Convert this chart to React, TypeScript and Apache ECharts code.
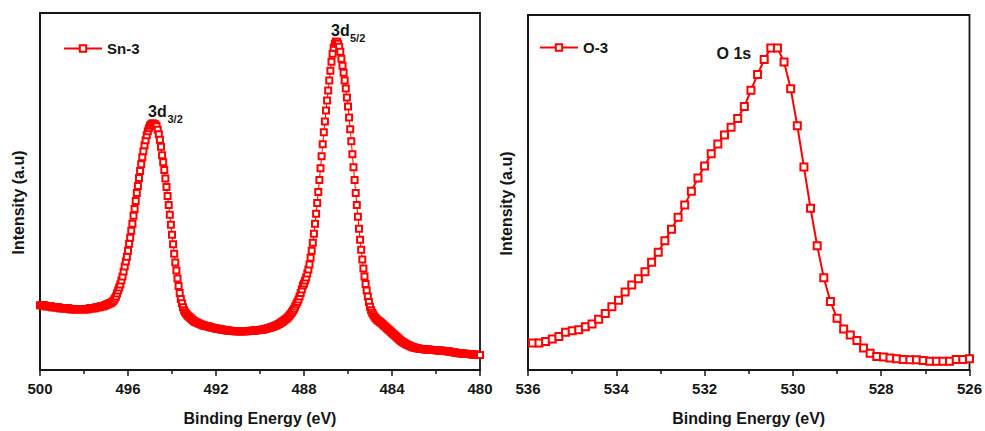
import React, { useEffect, useRef } from "react";
import * as echarts from "echarts";

// ---------- Sn 3d spectrum (Sn-3) ----------
const SN_START = 500; // eV, first measured energy
const SN_STEP = 0.05; // eV, measurement step
const snIntensity = [
  65, 65, 65, 65, 65, 64, 64, 64, 64, 64, 64, 63, 63, 63, 63, 63, 63, 63, 62, 62,
  62, 62, 62, 62, 62, 62, 62, 61, 61, 61, 61, 61, 61, 61, 61, 61, 61, 61, 61, 61,
  61, 61, 61, 61, 61, 62, 62, 62, 62, 62, 62, 63, 63, 63, 63, 64, 64, 64, 64, 65,
  65, 66, 66, 67, 67, 68, 69, 70, 72, 74, 77, 80, 83, 86, 90, 94, 99, 104, 109, 114,
  120, 127, 133, 140, 147, 155, 162, 170, 178, 185, 193, 200, 207, 214, 220, 226, 231, 236, 240, 243,
  245.5, 247, 248, 248, 247.5, 246.5, 245, 241.5, 237, 231.5, 224.5, 216, 209, 201, 192.5, 184, 175, 166, 156, 146,
  136, 126.5, 117, 108, 100, 92, 84.5, 77.5, 71.5, 67, 63, 60, 58, 56.5, 55, 54, 53, 52, 51, 50,
  49, 48.5, 48, 47.5, 47, 46.5, 46, 45.5, 45, 44.8, 44.5, 44.2, 44, 43.7, 43.4, 43.1, 42.8, 42.5, 42.2, 42,
  41.8, 41.6, 41.4, 41.2, 41, 40.8, 40.6, 40.4, 40.2, 40, 39.8, 39.6, 39.5, 39.4, 39.3, 39.2, 39.1, 39, 39, 39,
  39, 39, 39, 39, 39, 39, 39, 39, 39, 39.1, 39.2, 39.3, 39.4, 39.5, 39.6, 39.7, 39.8, 39.9, 40, 40.1,
  40.2, 40.4, 40.6, 40.8, 41, 41.3, 41.6, 41.9, 42.2, 42.5, 42.9, 43.3, 43.7, 44.1, 44.6, 45, 45.6, 46.2, 46.8, 47.5,
  48.2, 49, 49.8, 50.7, 51.6, 52.6, 53.7, 55, 56.5, 58, 59.8, 61.7, 63.8, 66, 68.5, 71, 74, 77.5, 81, 85,
  87, 90, 93, 97, 101, 106, 113, 120, 128, 137, 147, 157, 168, 179, 191, 203, 215, 227, 239, 250,
  261, 271, 281, 291, 301, 310, 318, 324, 328, 330, 330, 328, 325, 320, 313, 306, 299, 291, 283, 274,
  265, 254, 242, 230, 217, 204, 191, 178, 166, 154, 142, 131, 121, 111, 102, 94, 86.5, 80, 74, 68.5,
  63.5, 60, 57.5, 55.5, 53.8, 52.3, 51.1, 50.1, 49.2, 48.3, 47.4, 46.5, 45.5, 44.5, 43.5, 42.5, 41.5, 40.5, 39.5, 38.5,
  37.5, 36.5, 35.5, 34.5, 33.5, 32.5, 31.5, 30.5, 29.5, 28.7, 28, 27.3, 26.6, 26, 25.4, 24.8, 24.3, 23.8, 23.4, 23,
  22.6, 22.3, 22, 21.8, 21.6, 21.4, 21.2, 21.1, 21, 20.9, 20.8, 20.7, 20.6, 20.5, 20.4, 20.3, 20.2, 20.1, 20, 20,
  19.9, 19.8, 19.7, 19.6, 19.5, 19.4, 19.3, 19.2, 19.1, 19, 18.9, 18.8, 18.6, 18.4, 18.2, 18, 17.8, 17.6, 17.4, 17.2,
  17, 16.9, 16.8, 16.7, 16.6, 16.5, 16.4, 16.3, 16.2, 16.1, 16, 15.9, 15.8, 15.7, 15.6, 15.5, 15.4, 15.3, 15.2, 15.1,
  15,
];

// ---------- O 1s spectrum (O-3) ----------
const O_START = 535.9;
const O_STEP = 0.15;
const oIntensity = [
  27.3, 27.3, 28.7, 31.3, 33.7, 38, 39.7, 40.7, 43.7, 46.3,
  51.3, 57, 63.7, 70.3, 78.7, 85.7, 92, 99, 108.7, 118.7,
  130.3, 142, 154, 166.3, 180.3, 193.7, 205.7, 218, 228, 237,
  244.7, 253.7, 265.7, 282, 298, 313, 324.7, 324.7, 310.7, 283.7,
  246.3, 204.7, 163, 125.3, 93, 69, 52.3, 41.3, 35.3, 29.7,
  22.3, 17, 13.7, 13, 12, 11.3, 10.7, 10.3, 10.3, 9.7,
  8.7, 8.7, 8.7, 8.7, 10.7, 10.7, 11.3,
];

// axis ranges / ticks
const snRange = { min: 480, max: 500, interval: 4 };
const oRange = { min: 526, max: 536, interval: 2 };
const xTitle = "Binding Energy (eV)";
const yTitle = "Intensity (a.u)";
const snName = "Sn-3";
const oName = "O-3";

const snData = snIntensity.map((v, i) => [+(SN_START - i * SN_STEP).toFixed(2), v]);
const oData = oIntensity.map((v, i) => [+(O_START - i * O_STEP).toFixed(2), v]);

const FONT = '"Liberation Sans", Arial, Helvetica, sans-serif';
const INK = "#161616";
const RED = "#ff0000";

function xAxisFor(gridIndex: number, r: { min: number; max: number; interval: number }) {
  return {
    gridIndex,
    type: "value",
    inverse: true,
    min: r.min,
    max: r.max,
    interval: r.interval,
    name: xTitle,
    nameLocation: "middle",
    nameGap: 40,
    nameTextStyle: { fontFamily: FONT, fontWeight: "bold", fontSize: 16, color: INK },
    axisLine: { show: true, lineStyle: { color: INK, width: 1.8 } },
    axisTick: { show: true, inside: false, length: 6, lineStyle: { color: INK, width: 1.5 } },
    minorTick: { show: true, splitNumber: 2, length: 4, lineStyle: { color: INK, width: 1.5 } },
    axisLabel: { fontFamily: FONT, fontWeight: "bold", fontSize: 15, color: INK, margin: 11 },
    splitLine: { show: false },
    minorSplitLine: { show: false },
  };
}

function yAxisFor(gridIndex: number, max: number) {
  return {
    gridIndex,
    type: "value",
    min: 0,
    max,
    name: yTitle,
    nameLocation: "middle",
    nameRotate: 90,
    nameGap: 14,
    nameTextStyle: {
      fontFamily: FONT,
      fontWeight: "bold",
      fontSize: 16,
      color: INK,
      padding: [0, 22, 0, 0],
    },
    axisLine: { show: true, lineStyle: { color: INK, width: 1.8 } },
    axisTick: { show: false },
    axisLabel: { show: false },
    splitLine: { show: false },
  };
}

function annot(text: string, x: number, y: number, size: number) {
  return {
    type: "text",
    x,
    y,
    silent: true,
    style: {
      text,
      font: `bold ${size}px ${FONT}`,
      fill: INK,
      textAlign: "left",
      textVerticalAlign: "middle",
      align: "left",
      verticalAlign: "middle",
    },
  };
}

export default function App() {
  const ref = useRef<HTMLDivElement>(null);
  useEffect(() => {
    document.body.style.margin = "0";
    if (!ref.current) return;
    const chart = echarts.init(ref.current, null, { renderer: "svg" });
    const legendCommon = {
      orient: "horizontal",
      padding: 0,
      itemWidth: 38,
      itemHeight: 8,
      itemGap: 5,
      textStyle: { fontFamily: FONT, fontWeight: "bold", fontSize: 15, color: INK },
    };
    chart.setOption({
      animation: false,
      backgroundColor: "#ffffff",
      grid: [
        { left: 40, top: 13, width: 440, height: 359, show: true, borderColor: INK, borderWidth: 1.8 },
        { left: 528, top: 15, width: 442, height: 358, show: true, borderColor: INK, borderWidth: 1.8 },
      ],
      xAxis: [xAxisFor(0, snRange), xAxisFor(1, oRange)],
      yAxis: [yAxisFor(0, 359), yAxisFor(1, 358)],
      legend: [
        { ...legendCommon, data: [snName], left: 63, top: 41 },
        { ...legendCommon, data: [oName], left: 539, top: 40 },
      ],
      series: [
        {
          name: snName,
          type: "line",
          xAxisIndex: 0,
          yAxisIndex: 0,
          data: snData,
          symbol: "emptyRect",
          symbolSize: 6,
          showAllSymbol: true,
          lineStyle: { color: RED, width: 1 },
          itemStyle: { color: RED, borderColor: RED, borderWidth: 1.4 },
        },
        {
          name: oName,
          type: "line",
          xAxisIndex: 1,
          yAxisIndex: 1,
          data: oData,
          symbol: "emptyRect",
          symbolSize: 7,
          showAllSymbol: true,
          lineStyle: { color: RED, width: 2 },
          itemStyle: { color: RED, borderColor: RED, borderWidth: 2 },
        },
      ],
      graphic: [
        annot("3d", 148, 111, 16),
        annot("3/2", 167.5, 119, 11),
        annot("3d", 331, 30, 16),
        annot("5/2", 350, 38, 11),
        annot("O 1s", 716.5, 53, 16),
      ],
    });
    return () => chart.dispose();
  }, []);
  return <div ref={ref} style={{ width: 985, height: 431 }} />;
}
